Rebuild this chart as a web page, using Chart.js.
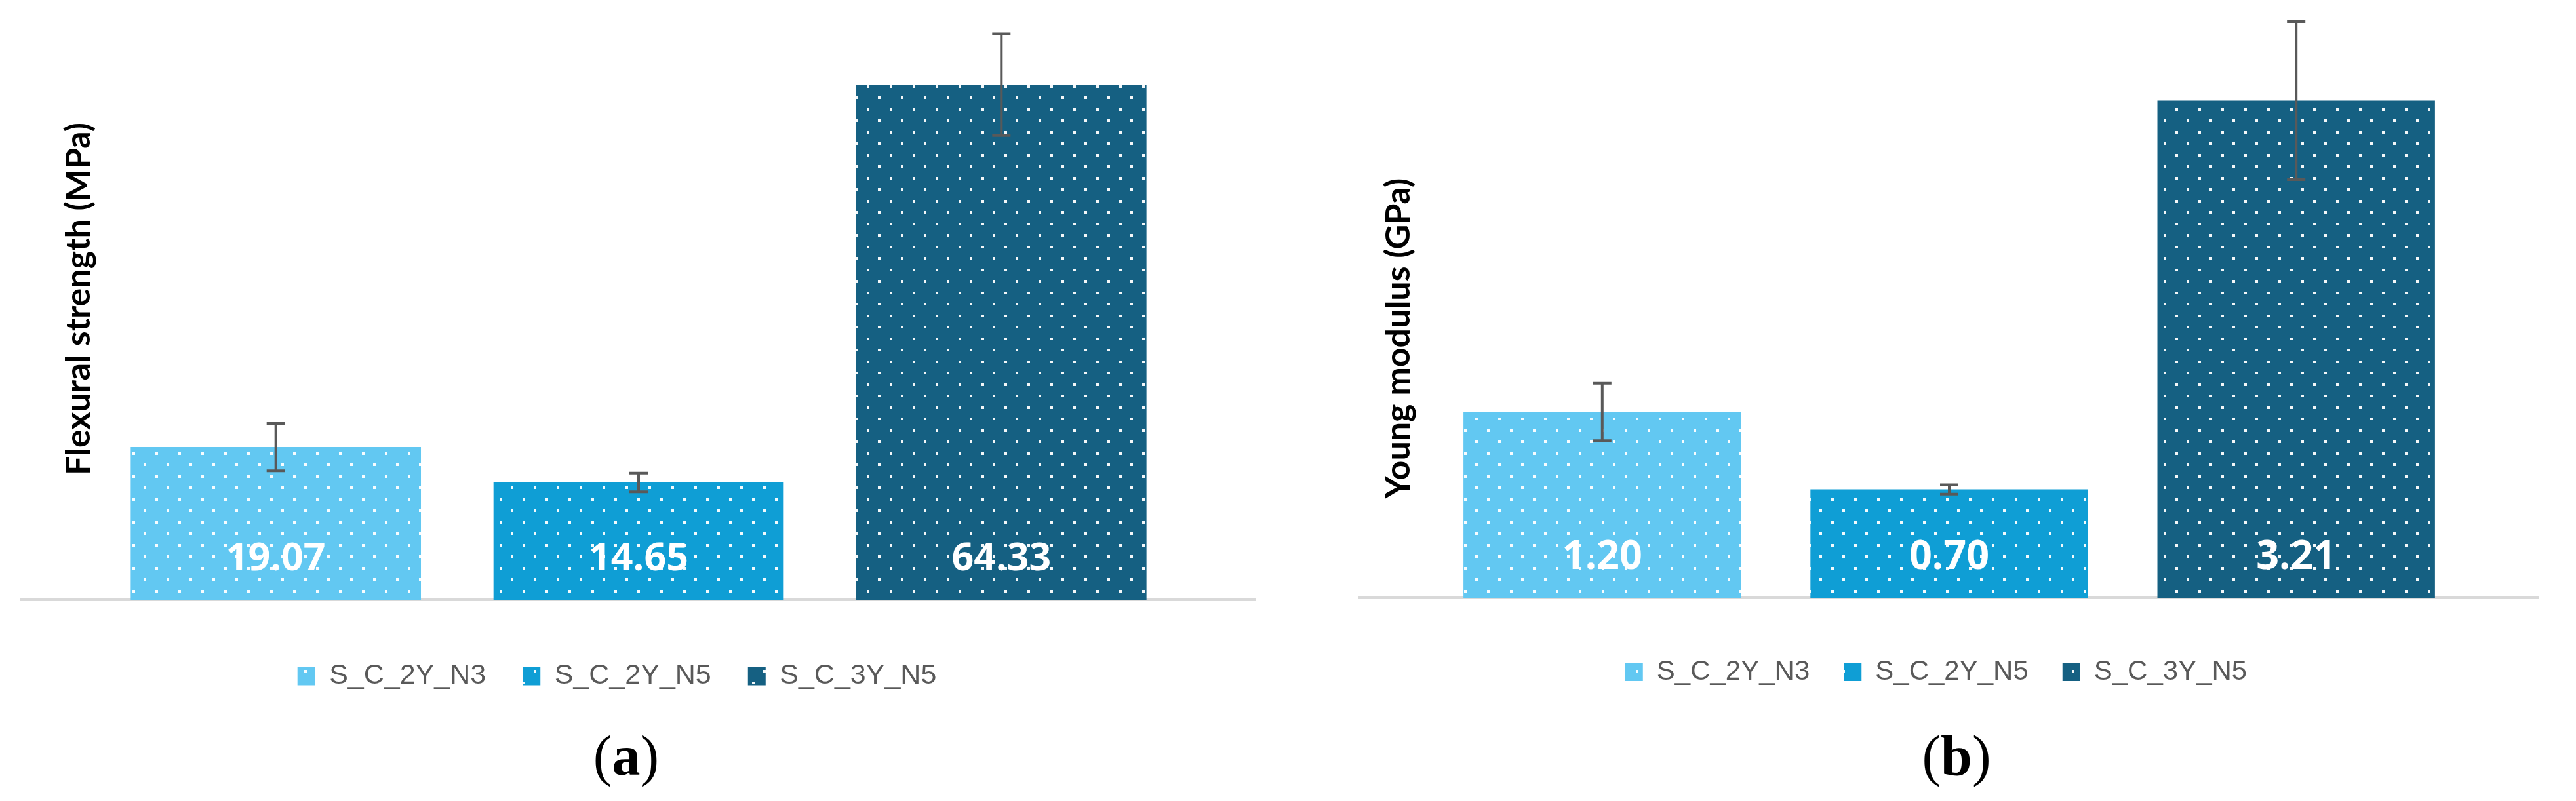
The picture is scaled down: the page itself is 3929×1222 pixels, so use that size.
<!DOCTYPE html>
<html><head><meta charset="utf-8">
<script src="https://cdn.jsdelivr.net/npm/chart.js@4.4.1/dist/chart.umd.min.js"></script>
<style>
html,body{margin:0;padding:0;background:#fff;}
body{width:3929px;height:1222px;position:relative;overflow:hidden;}
canvas{position:absolute;top:0;}
.cap{position:absolute;font-family:"Liberation Serif","Times New Roman",serif;font-size:86px;line-height:86px;color:#000;text-align:center;width:400px;}
.cap b{font-weight:bold;}
</style></head><body>
<canvas id="cA" width="1948" height="1100" style="left:-33px"></canvas>
<canvas id="cB" width="1840" height="1100" style="left:2033px"></canvas>
<div class="cap" style="left:755px;top:1110px">(<b>a</b>)</div>
<div class="cap" style="left:2784px;top:1110px">(<b>b</b>)</div>
<script>
// ---- data ----
const categoryLabels = [''];
const seriesNames = ['S_C_2Y_N3', 'S_C_2Y_N5', 'S_C_3Y_N5'];
const seriesColors = ['#62C8F2', '#0F9ED5', '#156082'];
const flexuralStrength = [19.07, 14.65, 64.33];
const flexuralStrengthSD = [2.96, 1.16, 6.35];
const youngModulus = [1.20, 0.70, 3.21];
const youngModulusSD = [0.185, 0.03, 0.51];
const axisTitleA = 'Flexural strength (MPa)';
const axisTitleB = 'Young modulus (GPa)';

function dotPattern(color) {
  const s = 35;
  const c = document.createElement('canvas');
  c.width = s; c.height = s;
  const g = c.getContext('2d');
  g.fillStyle = color; g.fillRect(0, 0, s, s);
  g.fillStyle = 'rgba(255,255,255,0.95)';
  g.fillRect(7, 7, 4, 4);
  g.fillRect(25, 25, 4, 4);
  return g.createPattern(c, 'repeat');
}
const patterns = seriesColors.map(dotPattern);

const errorBarPlugin = {
  id: 'errorBars',
  afterDatasetsDraw(chart, args, o) {
    const ctx = chart.ctx, y = chart.scales.y;
    chart.data.datasets.forEach((ds, i) => {
      const el = chart.getDatasetMeta(i).data[0];
      if (!el) return;
      const v = ds.data[0], e = ds.errors[0];
      const yt = y.getPixelForValue(v + e), yb = y.getPixelForValue(v - e);
      ctx.save();
      ctx.strokeStyle = o.color; ctx.lineWidth = o.width; ctx.lineCap = 'butt';
      ctx.beginPath();
      ctx.moveTo(el.x, yt); ctx.lineTo(el.x, yb);
      ctx.moveTo(el.x - o.cap / 2, yt); ctx.lineTo(el.x + o.cap / 2, yt);
      ctx.moveTo(el.x - o.cap / 2, yb); ctx.lineTo(el.x + o.cap / 2, yb);
      ctx.stroke();
      ctx.restore();
    });
  }
};

const valueLabelPlugin = {
  id: 'valueLabels',
  afterDatasetsDraw(chart, args, o) {
    const ctx = chart.ctx;
    chart.data.datasets.forEach((ds, i) => {
      const el = chart.getDatasetMeta(i).data[0];
      if (!el) return;
      ctx.save();
      ctx.font = o.font;
      ctx.fillStyle = '#FFFFFF';
      ctx.textAlign = 'center';
      ctx.textBaseline = 'alphabetic';
      ctx.fillText(ds.data[0].toFixed(2), el.x, el.base - o.offset);
      ctx.restore();
    });
  }
};

const axisTitlePlugin = {
  id: 'axisTitle',
  afterDraw(chart, args, o) {
    const ctx = chart.ctx;
    ctx.save();
    ctx.translate(o.x, o.y);
    ctx.rotate(-Math.PI / 2);
    ctx.font = o.font;
    ctx.fillStyle = '#000000';
    ctx.textAlign = 'center';
    ctx.textBaseline = 'alphabetic';
    ctx.fillText(o.text, 0, 0);
    ctx.restore();
  }
};

function makeChart(id, values, errors, cfg) {
  return new Chart(document.getElementById(id), {
    type: 'bar',
    data: {
      labels: categoryLabels,
      datasets: seriesNames.map((n, i) => ({
        label: n,
        data: [values[i]],
        errors: [errors[i]],
        backgroundColor: patterns[i],
        borderWidth: 0,
        categoryPercentage: 0.882,
        barPercentage: 0.80
      }))
    },
    options: {
      responsive: false,
      animation: false,
      devicePixelRatio: 1,
      layout: { padding: { left: 0, right: 0, top: cfg.top, bottom: cfg.bottom } },
      scales: {
        x: {
          ticks: { display: false },
          grid: { display: false },
          border: { display: true, color: '#D9D9D9', width: 4 },
          afterFit: s => { s.height = cfg.xGap; }
        },
        y: {
          min: 0, max: cfg.max,
          ticks: { display: false },
          grid: { display: false },
          border: { display: false },
          afterFit: s => { s.width = cfg.yW; }
        }
      },
      plugins: {
        legend: {
          position: 'bottom',
          labels: {
            font: { family: '"Liberation Sans", Arial, sans-serif', size: cfg.legendFont },
            color: '#595959',
            boxWidth: 27, boxHeight: 28,
            padding: cfg.legendPad
          }
        },
        tooltip: { enabled: false },
        errorBars: { color: '#595959', width: 4, cap: 28 },
        valueLabels: { font: cfg.labelFont, offset: cfg.labelOffset },
        axisTitle: { text: cfg.title, x: cfg.titleX, y: cfg.titleY, font: 'bold 52px Lato, "Open Sans", sans-serif' }
      }
    },
    plugins: [errorBarPlugin, valueLabelPlugin, axisTitlePlugin]
  });
}

makeChart('cA', flexuralStrength, flexuralStrengthSD, {
  top: 11, bottom: 37, xGap: 39, yW: 66, max: 74,
  legendFont: 43, legendPad: 56,
  labelFont: 'bold 59px "Open Sans", sans-serif', labelOffset: 45,
  title: axisTitleA, titleX: 170, titleY: 456
});
makeChart('cB', youngModulus, youngModulusSD, {
  top: 14, bottom: 44, xGap: 40, yW: 40, max: 3.8,
  legendFont: 42, legendPad: 52,
  labelFont: 'bold 61px "Open Sans", sans-serif', labelOffset: 44,
  title: axisTitleB, titleX: 117, titleY: 516
});
</script>
</body></html>
